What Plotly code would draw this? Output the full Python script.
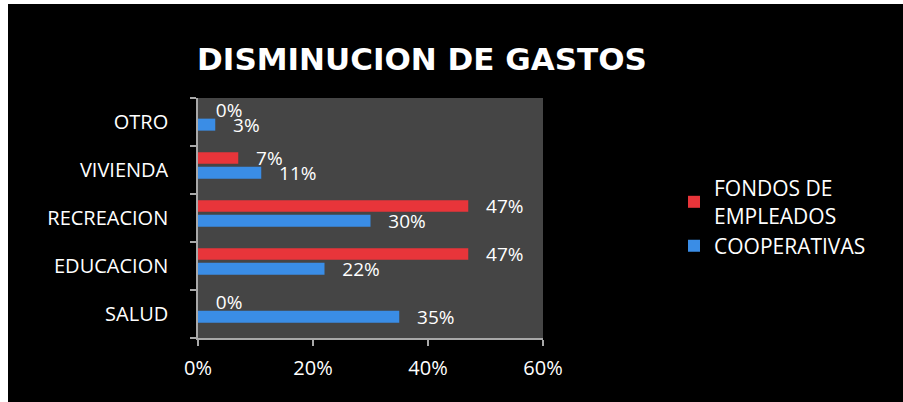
import plotly.graph_objects as go

categories = ["SALUD", "EDUCACION", "RECREACION", "VIVIENDA", "OTRO"]
cooperativas = [0.35, 0.22, 0.30, 0.11, 0.03]
fondos = [0.00, 0.47, 0.47, 0.07, 0.00]
x_ticks = [0, 0.2, 0.4, 0.6]
x_tick_labels = ["0%", "20%", "40%", "60%"]

W, H = 903, 402
ML, MR, MT, MB = 198, 360, 98, 64
PW, PH = W - ML - MR, H - MT - MB

FONT = "Open Sans"
GAP = "\u00a0\u00a0\u00a0"

fig = go.Figure()
fig.add_trace(go.Bar(
    name="COOPERATIVAS", y=categories, x=cooperativas, orientation="h",
    marker=dict(color="#3a8de6", line=dict(width=0)),
    width=0.25, offset=-0.18,
    texttemplate=GAP + "%{x:.0%}", textposition="outside", cliponaxis=False,
    constraintext="none",
    textfont=dict(color="white", size=19, family=FONT),
))
fig.add_trace(go.Bar(
    name="FONDOS DE<br>EMPLEADOS", y=categories, x=fondos, orientation="h",
    marker=dict(color="#e8353a", line=dict(width=0)),
    width=0.24, offset=0.13,
    texttemplate=GAP + "%{x:.0%}", textposition="outside", cliponaxis=False,
    constraintext="none",
    textfont=dict(color="white", size=19, family=FONT),
))

def px_x(p):
    return (p - ML) / PW

def px_y(p):
    return (H - MB - p) / PH

shapes = [
    dict(type="rect", xref="paper", yref="paper", x0=px_x(0), x1=px_x(8),
         y0=px_y(H), y1=px_y(0), fillcolor="white", line=dict(width=0), layer="above"),
    dict(type="rect", xref="paper", yref="paper", x0=px_x(0), x1=px_x(W),
         y0=px_y(4), y1=px_y(0), fillcolor="white", line=dict(width=0), layer="above"),
]

fig.update_layout(
    width=W, height=H,
    margin=dict(l=ML, r=MR, t=MT, b=MB, pad=0),
    paper_bgcolor="black", plot_bgcolor="#454545",
    barmode="overlay",
    font=dict(family=FONT, color="white", size=20),
    title=dict(text="DISMINUCION DE GASTOS", x=422 / W, xanchor="center", xref="container",
               y=1 - 59 / H, yanchor="middle", yref="container",
               font=dict(family="DejaVu Sans", size=31, color="white", weight="bold")),
    legend=dict(x=px_x(674), xanchor="left", y=px_y(168), yanchor="top",
                traceorder="reversed", font=dict(size=21, color="white", family=FONT),
                bgcolor="rgba(0,0,0,0)"),
    shapes=shapes,
)
fig.update_xaxes(range=[0, 0.6], tickvals=x_ticks, ticktext=x_tick_labels,
                 showgrid=False, zeroline=False, showline=True, linecolor="#a8a8a8", linewidth=1.5,
                 ticks="outside", ticklen=6, tickcolor="#a8a8a8", tickwidth=1.5,
                 ticklabelstandoff=5, tickfont=dict(size=20, color="white", family=FONT))
fig.update_yaxes(type="category", categoryorder="array", categoryarray=categories,
                 showgrid=False, zeroline=False, showline=True, linecolor="#a8a8a8", linewidth=1.5,
                 ticks="outside", ticklen=6, tickcolor="#a8a8a8", tickwidth=1.5, tickson="boundaries",
                 ticklabelstandoff=24, tickfont=dict(size=20, color="white", family=FONT))

fig.write_html(
    "out.html",
    config={"displayModeBar": False},
    post_script=("document.documentElement.style.background='black';"
                 "document.body.style.background='black';"
                 "document.body.style.margin='0';document.body.style.overflow='hidden';"),
)
